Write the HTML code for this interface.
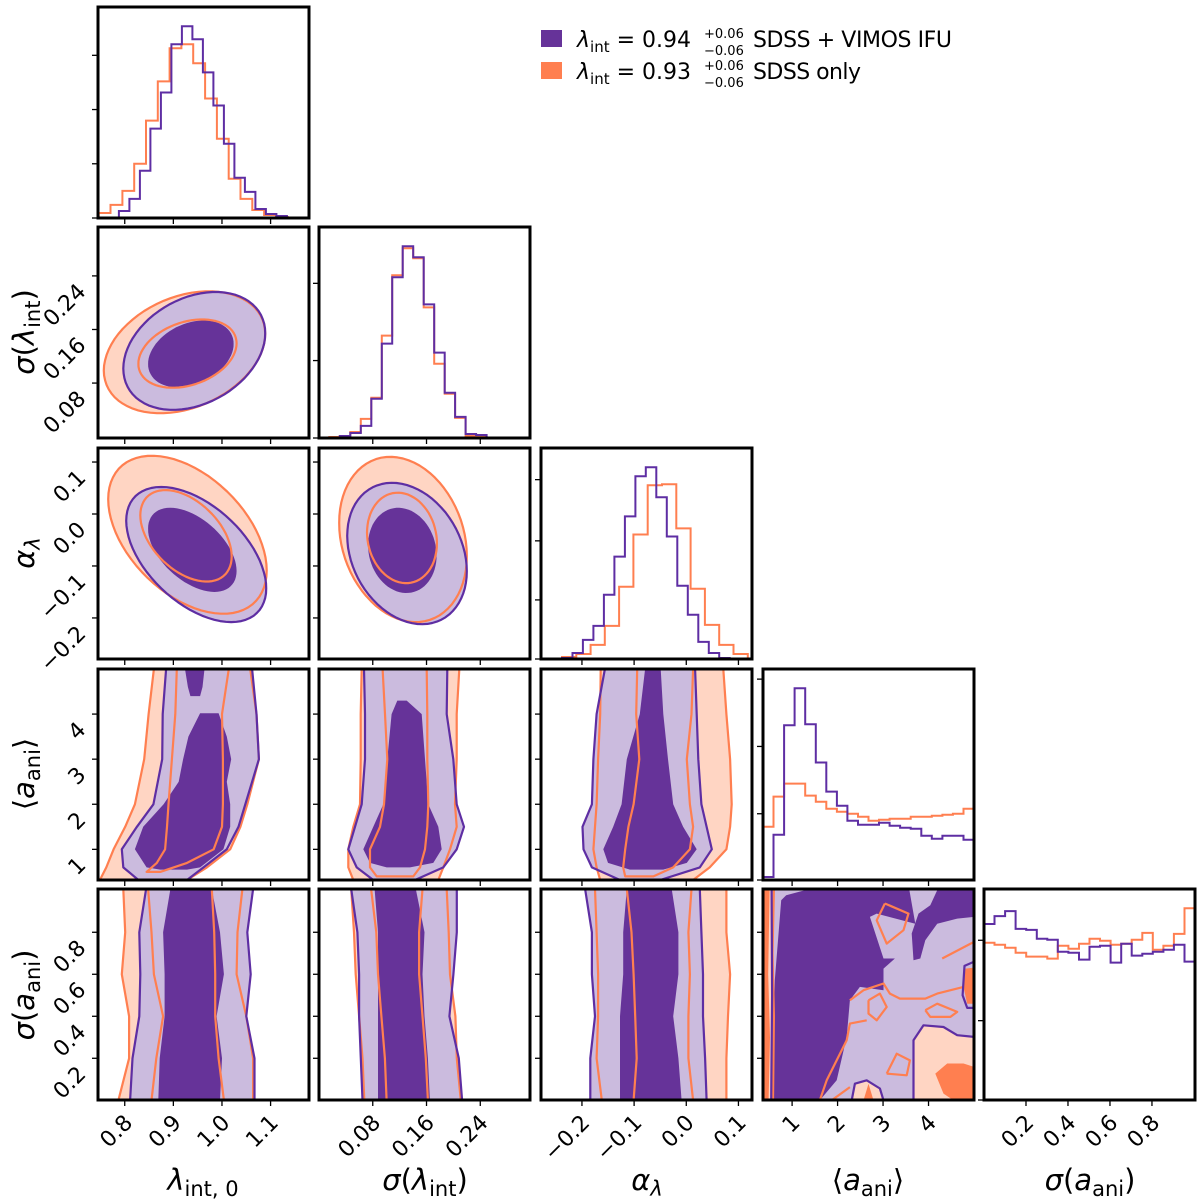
<!DOCTYPE html>
<html><head><meta charset="utf-8">
<style>
html,body{margin:0;padding:0;background:#fff;}
svg{display:block;font-family:"DejaVu Sans","Liberation Sans",sans-serif;}
</style></head>
<body>
<svg id="fig" width="1200" height="1202" viewBox="0 0 1200 1202" xmlns="http://www.w3.org/2000/svg">
<defs id="defs"></defs>
<g id="legend">
  <rect x="541" y="30" width="21" height="17" fill="#663399"/>
  <text x="577" y="47" font-size="22"><tspan font-style="italic">λ</tspan><tspan font-size="15" dy="5">int</tspan><tspan dy="-5"> = 0.94</tspan></text>
  <text x="704" y="38" font-size="13">+0.06</text>
  <text x="704" y="55" font-size="13">−0.06</text>
  <text x="753" y="47" font-size="22" textLength="199">SDSS + VIMOS IFU</text>
  <rect x="541" y="62" width="21" height="17" fill="#ff7f50"/>
  <text x="577" y="79" font-size="22"><tspan font-style="italic">λ</tspan><tspan font-size="15" dy="5">int</tspan><tspan dy="-5"> = 0.93</tspan></text>
  <text x="704" y="70" font-size="13">+0.06</text>
  <text x="704" y="87" font-size="13">−0.06</text>
  <text x="753" y="79" font-size="22" textLength="108">SDSS only</text>
</g>
<g id="labels">
  <text x="203" y="1190" font-size="29" text-anchor="middle"><tspan font-style="italic">λ</tspan><tspan font-size="21" dy="6">int, 0</tspan></text>
  <text x="425" y="1190" font-size="29" text-anchor="middle"><tspan font-style="italic">σ</tspan>(<tspan font-style="italic">λ</tspan><tspan font-size="21" dy="6">int</tspan><tspan dy="-6">)</tspan></text>
  <text x="647" y="1190" font-size="29" text-anchor="middle"><tspan font-style="italic">α</tspan><tspan font-size="21" dy="6" font-style="italic">λ</tspan></text>
  <text x="868" y="1190" font-size="29" text-anchor="middle">⟨<tspan font-style="italic">a</tspan><tspan font-size="21" dy="6">ani</tspan><tspan dy="-6">⟩</tspan></text>
  <text x="1090" y="1190" font-size="29" text-anchor="middle"><tspan font-style="italic">σ</tspan>(<tspan font-style="italic">a</tspan><tspan font-size="21" dy="6">ani</tspan><tspan dy="-6">)</tspan></text>
  <text transform="translate(34,332) rotate(-90)" font-size="29" text-anchor="middle"><tspan font-style="italic">σ</tspan>(<tspan font-style="italic">λ</tspan><tspan font-size="21" dy="6">int</tspan><tspan dy="-6">)</tspan></text>
  <text transform="translate(34,553) rotate(-90)" font-size="29" text-anchor="middle"><tspan font-style="italic">α</tspan><tspan font-size="21" dy="6" font-style="italic">λ</tspan></text>
  <text transform="translate(34,774) rotate(-90)" font-size="29" text-anchor="middle">⟨<tspan font-style="italic">a</tspan><tspan font-size="21" dy="6">ani</tspan><tspan dy="-6">⟩</tspan></text>
  <text transform="translate(34,995) rotate(-90)" font-size="29" text-anchor="middle"><tspan font-style="italic">σ</tspan>(<tspan font-style="italic">a</tspan><tspan font-size="21" dy="6">ani</tspan><tspan dy="-6">)</tspan></text>
</g>
</svg>
<script>
// ---------- axis ranges (data units) ----------
const xRanges = {lam:[0.745,1.179], sig:[0.0,0.314], alp:[-0.2785,0.126], a:[0.36,5.0], sa:[0.0,1.005]};
const yRanges = {sig:[-0.002,0.313], alp:[-0.279,0.127], a:[0.32,5.0], sa:[0.0014,1.006]};
const varOrder = ['lam','sig','alp','a','sa'];
const tickVals = {lam:[0.8,0.9,1.0,1.1], sig:[0.08,0.16,0.24], alp:[-0.2,-0.1,0.0,0.1], a:[1,2,3,4], sa:[0.2,0.4,0.6,0.8]};
const tickLabels = {lam:['0.8','0.9','1.0','1.1'], sig:['0.08','0.16','0.24'], alp:['−0.2','−0.1','0.0','0.1'], a:['1','2','3','4'], sa:['0.2','0.4','0.6','0.8']};
const diagTickFrac = [[0,0.257,0.514,0.771],[0,0.367,0.733],[0,0.28,0.56,0.85],[0,0.314,0.633,0.952],[0,0.376,0.757]];

// ---------- 1D histograms ----------
const histLamPurpleStart = 0.788, histLamPurpleWidth = 0.0216;
const histLamPurple = [7,19,47,89,125,173,191,178,145,112,74,40,26,9,4,2];
const histLamOrangeStart = 0.7465, histLamOrangeWidth = 0.0243;
const histLamOrange = [5,13,27,54,97,136,169,173,154,119,79,39,19,8,3,1];
const histSigPurpleStart = 0.0310, histSigPurpleWidth = 0.0156;
const histSigPurple = [2,5,12,39,94,160,191,180,133,85,45,21,4,3];
const histSigOrangeStart = 0.0154, histSigOrangeWidth = 0.0156;
const histSigOrange = [1,2,6,19,40,102,162,189,179,130,74,44,20,2,1];
const histAlpPurpleStart = -0.2383, histAlpPurpleWidth = 0.0201;
const histAlpPurple = [1,6,19,33,64,102,142,182,191,161,122,73,44,17,6,1];
const histAlpOrangeStart = -0.2383, histAlpOrangeWidth = 0.0274;
const histAlpOrange = [2,5,14,33,72,124,173,174,130,70,34,14,5];
const histAPurpleStart = 0.36, histAPurpleWidth = 0.232;
const histAPurple = [3,45,154,191,155,117,88,74,59,55,55,57,54,52,51,44,41,44,44,40];
const histAOrangeStart = 0.36, histAOrangeWidth = 0.232;
const histAOrange = [53,83,96,96,84,78,71,68,66,63,59,60,61,61,63,63,64,65,66,71];
const histSaPurpleStart = 0.0, histSaPurpleWidth = 0.05025;
const histSaPurple = [178,186,191,173,172,163,162,150,149,142,155,156,139,158,146,148,150,152,157,140];
const histSaOrangeStart = 0.0, histSaOrangeWidth = 0.05025;
const histSaOrange = [159,157,154,149,145,145,143,156,153,158,163,161,157,158,162,169,152,156,168,194];

// ---------- ellipse contours: [centerX, centerY, halfExtentX, halfExtentY, rho] ----------
const ellLamSigOrangeOuter = [0.923,0.126,0.166,0.091,0.3];
const ellLamSigPurpleOuter = [0.943,0.128,0.146,0.088,0.3];
const ellLamSigPurpleInner = [0.936,0.1235,0.088,0.050,0.3];
const ellLamSigOrangeInner = [0.929,0.124,0.101,0.051,0.3];
const ellLamAlpOrangeOuter = [0.929,-0.040,0.163,0.152,-0.45];
const ellLamAlpPurpleOuter = [0.947,-0.078,0.144,0.130,-0.5];
const ellLamAlpPurpleInner = [0.939,-0.069,0.091,0.081,-0.5];
const ellLamAlpOrangeInner = [0.926,-0.042,0.094,0.088,-0.45];
const ellSigAlpOrangeOuter = [0.125,-0.049,0.095,0.159,-0.2];
const ellSigAlpPurpleOuter = [0.131,-0.076,0.089,0.136,-0.25];
const ellSigAlpPurpleInner = [0.124,-0.070,0.051,0.082,-0.12];
const ellSigAlpOrangeInner = [0.1235,-0.046,0.052,0.087,-0.12];

// ---------- band contours vs <a_ani> ----------
const levA = [5.0,4,3,2,1.5,1,0.6,0.32];
const lamAOrangeOuterL = [0.860,0.849,0.840,0.821,0.801,0.777,0.762,0.749];
const lamAOrangeOuterR = [1.058,1.071,1.076,1.052,1.038,1.017,0.969,0.928];
const lamAPurpleOuterL = [0.885,0.878,0.877,0.859,0.825,0.794,0.797,0.828];
const lamAPurpleOuterR = [1.062,1.071,1.076,1.048,1.034,1.010,0.962,0.928];
const levAInner = [4.02,3.5,3,2.5,2,1.5,1,0.6,0.55];
const lamAPurpleInnerL = [0.955,0.931,0.920,0.911,0.880,0.838,0.821,0.845,0.873];
const lamAPurpleInnerR = [0.993,1.010,1.019,1.010,1.017,1.017,1.003,0.955,0.928];
const levATop = [5.0,4.6,4.4];
const lamAPurpleTopL = [0.924,0.930,0.935];
const lamAPurpleTopR = [0.964,0.960,0.955];
const levAOrInner = [5.0,4,3,2,1.5,1,0.7,0.5];
const lamAOrangeInnerL = [0.907,0.904,0.897,0.890,0.887,0.883,0.866,0.845];
const lamAOrangeInnerR = [1.014,1.000,1.002,1.002,1.000,0.983,0.928,0.873];

const sigAOrangeOuterL = [0.0635,0.0620,0.0620,0.0610,0.0510,0.0436,0.0436,0.0510];
const sigAOrangeOuterR = [0.2088,0.2049,0.2049,0.2024,0.2049,0.1949,0.1850,0.1775];
const sigAPurpleOuterL = [0.0670,0.0685,0.0685,0.0635,0.0536,0.0436,0.0561,0.0808];
const sigAPurpleOuterR = [0.1909,0.1900,0.1998,0.2049,0.2158,0.2049,0.1850,0.1429];
const levSigAInner = [4.3,4,3,2,1.5,1,0.7,0.6];
const sigAPurpleInnerL = [0.1165,0.1081,0.1016,0.0957,0.0808,0.0659,0.0759,0.1007];
const sigAPurpleInnerR = [0.1305,0.1528,0.1577,0.1627,0.1775,0.1826,0.1701,0.1354];
const levSigAOrInner = [5,4,3,2,1.5,1,0.6,0.4];
const sigAOrangeInnerL = [0.0947,0.0982,0.1016,0.0967,0.0908,0.0759,0.0759,0.0858];
const sigAOrangeInnerR = [0.1602,0.1612,0.1612,0.1627,0.1612,0.1577,0.1503,0.1403];

const alpAOrangeOuterL = [-0.164,-0.165,-0.169,-0.172,-0.175,-0.178,-0.172,-0.165];
const alpAOrangeOuterR = [0.071,0.077,0.084,0.087,0.084,0.077,0.045,0.013];
const alpAPurpleOuterL = [-0.156,-0.172,-0.178,-0.181,-0.199,-0.197,-0.181,-0.127];
const alpAPurpleOuterR = [0.017,0.020,0.023,0.029,0.039,0.049,0.026,-0.050];
const levAlpAInner = [5,4,3,2,1.5,1,0.7,0.55];
const alpAPurpleInnerL = [-0.079,-0.089,-0.114,-0.124,-0.140,-0.159,-0.150,-0.108];
const alpAPurpleInnerR = [-0.049,-0.044,-0.035,-0.025,-0.006,0.020,0.001,-0.044];
const levAlpAOrInner = [5,4,3,2,1.5,1,0.6,0.4];
const alpAOrangeInnerL = [-0.094,-0.096,-0.090,-0.101,-0.111,-0.117,-0.121,-0.117];
const alpAOrangeInnerR = [0.013,0.010,0.001,0.007,0.013,0.007,-0.025,-0.063];

// ---------- band contours vs sigma(a_ani) ----------
const levS = [1.006,0.8,0.6,0.4,0.2,0.0];
const lamSOrangeOuterL = [0.797,0.801,0.794,0.809,0.809,0.787];
const lamSOrangeOuterR = [1.042,1.032,1.030,1.050,1.064,1.064];
const lamSPurpleOuterL = [0.844,0.830,0.832,0.830,0.816,0.811];
const lamSPurpleOuterR = [1.064,1.052,1.059,1.050,1.067,1.067];
const lamSPurpleInnerL = [0.894,0.879,0.882,0.882,0.872,0.869];
const lamSPurpleInnerR = [0.979,0.996,1.004,0.989,1.000,0.996];
const lamSOrangeInnerL = [0.848,0.855,0.860,0.879,0.865,0.855];
const lamSOrangeInnerR = [0.979,0.984,0.986,0.986,0.993,1.004];
const sigSOrangeOuterL = [0.0479,0.0521,0.0546,0.0597,0.0648,0.0674];
const sigSOrangeOuterR = [0.190,0.193,0.195,0.203,0.205,0.211];
const sigSPurpleOuterL = [0.0479,0.0571,0.0597,0.0597,0.0622,0.0648];
const sigSPurpleOuterR = [0.205,0.205,0.200,0.194,0.208,0.213];
const sigSPurpleInnerL = [0.0827,0.0878,0.0878,0.0878,0.0878,0.0878];
const sigSPurpleInnerR = [0.144,0.157,0.154,0.157,0.162,0.165];
const sigSOrangeInnerL = [0.0776,0.0853,0.0878,0.0929,0.0980,0.1006];
const sigSOrangeInnerR = [0.154,0.149,0.149,0.154,0.159,0.162];
const alpSOrangeOuterL = [-0.175,-0.172,-0.169,-0.169,-0.172,-0.162];
const alpSOrangeOuterR = [0.077,0.077,0.084,0.080,0.077,0.077];
const alpSPurpleOuterL = [-0.194,-0.181,-0.181,-0.175,-0.184,-0.184];
const alpSPurpleOuterR = [0.026,0.029,0.032,0.032,0.036,0.039];
const alpSPurpleInnerL = [-0.114,-0.121,-0.121,-0.127,-0.127,-0.127];
const alpSPurpleInnerR = [-0.028,-0.015,-0.015,-0.025,-0.015,-0.009];
const alpSOrangeInnerL = [-0.114,-0.105,-0.101,-0.098,-0.095,-0.101];
const alpSOrangeInnerR = [0.010,0.004,0.007,0.004,0.004,0.013];

// ---------- <a_ani> vs sigma(a_ani) region polygons [a, s] ----------
const aSPurpleDarkMain = [[1.28,1.0],[3.58,1.0],[3.71,0.841],[2.86,0.889],[2.71,0.873],[3.01,0.675],[3.26,0.675],[3.01,0.627],[3.01,0.524],[2.49,0.540],[2.27,0.476],[2.20,0.302],[1.98,0.095],[1.61,0.0],[0.55,0.0],[0.62,0.571],[0.76,0.952],[0.87,0.976]];
const aSPurpleDarkTR = [[4.19,1.0],[5.0,1.0],[5.0,0.873],[4.63,0.865],[4.19,0.841],[3.93,0.762],[3.82,0.675],[3.67,0.667],[3.63,0.794],[3.78,0.889],[4.04,0.929]];
const aSLightOrangeBR = [[3.67,0],[3.67,0.286],[3.89,0.357],[4.33,0.349],[4.63,0.310],[5.0,0.302],[5.0,0]];
const aSDarkOrangeBR = [[4.15,0.127],[4.41,0.175],[4.77,0.175],[5.0,0.159],[5.0,0],[4.55,0],[4.33,0.032]];
const aSDarkOrangeR = [[4.81,0.627],[5.0,0.632],[5.0,0.46],[4.85,0.46],[4.77,0.54]];
const aSLightOrangeB = [[2.31,0],[2.38,0.079],[2.64,0.095],[2.93,0.056],[3.01,0]];
const aSDarkOrangeB = [[2.57,0],[2.68,0.079],[2.79,0]];
const aSDarkOrangeStrip = [[0.36,0],[0.47,0],[0.47,1.006],[0.36,1.006]];
const aSLightOrangeStrip = [[0.47,0],[0.56,0],[0.56,1.006],[0.47,1.006]];
const aSLightPurple = [[0.56,0],[5.0,0],[5.0,1.006],[0.56,1.006]];
const aSOrangeLines = [
 [[3.04,0.937],[3.56,0.889],[3.45,0.810],[3.08,0.746],[2.86,0.857],[3.04,0.937]],
 [[4.30,0.675],[5.0,0.754]],
 [[2.27,0.476],[2.57,0.524],[3.01,0.556],[3.15,0.508],[3.37,0.484],[3.93,0.484],[4.19,0.508],[4.77,0.540],[5.0,0.556]],
 [[2.68,0.476],[2.93,0.508],[3.08,0.444],[2.86,0.381],[2.68,0.413],[2.68,0.476]],
 [[3.93,0.429],[4.19,0.460],[4.63,0.421],[4.48,0.397],[4.04,0.397],[3.93,0.429]],
 [[3.08,0.127],[3.30,0.222],[3.59,0.190],[3.52,0.119],[3.08,0.127]],
 [[1.61,0],[1.76,0.095],[2.20,0.286],[2.27,0.365],[2.64,0.381]],
 [[1.87,0],[2.27,0.063]],
 [[0.46,0],[0.49,0.3],[0.45,0.6],[0.48,1.006]],
 [[0.58,0],[0.60,0.4],[0.57,0.7],[0.60,1.006]]
];
const aSPurpleLines = [
 [[3.67,0],[3.67,0.286],[3.89,0.357],[4.33,0.349],[4.63,0.310],[5.0,0.302]],
 [[2.31,0],[2.38,0.079],[2.64,0.095],[2.93,0.056],[3.01,0]],
 [[5.0,0.66],[4.79,0.64],[4.75,0.50],[4.85,0.44],[5.0,0.44]],
 [[0.54,0],[0.56,0.5],[0.55,1.006]]
];

// ---------- rendering ----------
const svg = document.getElementById('fig');
const defs = document.getElementById('defs');
const NS = 'http://www.w3.org/2000/svg';
const colX = [98,319,541,763,984];
const rowY = [7,227,448,669,889];
const PS = 211;
const C = {pd:'#663399', pl:'#cbbbde', pline:'#5e2ea3', od:'#ff7f50', ol:'#ffd5c3', oline:'#ff7f50'};

function mk(tag, attrs, parent){
  const e = document.createElementNS(NS, tag);
  for (const k in attrs) e.setAttribute(k, attrs[k]);
  (parent||svg).appendChild(e);
  return e;
}
function sx(col, v){ const r = xRanges[varOrder[col]]; return colX[col] + (v - r[0])/(r[1]-r[0])*PS; }
function sy(row, v){ const r = yRanges[varOrder[row]]; return rowY[row] + PS - (v - r[0])/(r[1]-r[0])*PS; }
function pathFrom(pts, col, row, close){
  return pts.map((p,i)=>(i?'L':'M')+sx(col,p[0]).toFixed(1)+','+sy(row,p[1]).toFixed(1)).join('') + (close?'Z':'');
}
function ellipsePts(e){
  const [mx,my,ax,ay,rho] = e; const phi = Math.acos(rho); const pts=[];
  for (let i=0;i<=72;i++){ const t=i/72*2*Math.PI; pts.push([mx+ax*Math.cos(t), my+ay*Math.cos(t-phi)]); }
  return pts;
}
function bandPtsY(lev, L, R){
  const pts=[]; for(let i=0;i<lev.length;i++) pts.push([L[i],lev[i]]);
  for(let i=lev.length-1;i>=0;i--) pts.push([R[i],lev[i]]);
  return pts;
}
function panelGroup(col,row,name){
  const id='clip'+col+row;
  const cp = mk('clipPath',{id:id},defs);
  mk('rect',{x:colX[col],y:rowY[row],width:PS,height:PS},cp);
  const g = mk('g',{'clip-path':'url(#'+id+')'});
  
  
  return g;
}
function fillPoly(g,pts,col,row,fill,name){
  const p = mk('path',{d:pathFrom(pts,col,row,true),fill:fill,stroke:'none'},g);
  
  
}
function linePoly(g,pts,col,row,color,close,name){
  const p = mk('path',{d:pathFrom(pts,col,row,close),fill:'none',stroke:color,'stroke-width':2.2,'stroke-linejoin':'round'},g);
  
  
}
function frame(col,row){
  const r = mk('rect',{x:colX[col],y:rowY[row],width:PS,height:PS,fill:'none',stroke:'#000','stroke-width':3});
  
  
}
function drawHist(col, series){
  const row=col; const g = panelGroup(col,row,'histogram-'+varOrder[col]);
  let mx=0; series.forEach(s=>s.counts.forEach(c=>{ if(c>mx) mx=c; }));
  const ymax = mx*1.1; const base=rowY[row]+PS;
  series.forEach(s=>{
    let d=''; const n=s.counts.length;
    for(let i=0;i<n;i++){
      const x0=sx(col,s.start+i*s.width), x1=sx(col,s.start+(i+1)*s.width);
      const y=base - s.counts[i]/ymax*PS;
      d += (i===0?'M'+x0.toFixed(1)+','+base+'L':'L')+x0.toFixed(1)+','+y.toFixed(1)+'L'+x1.toFixed(1)+','+y.toFixed(1);
    }
    d+='L'+sx(col,s.start+n*s.width).toFixed(1)+','+base;
    const p = mk('path',{d:d,fill:'none',stroke:s.color,'stroke-width':2},g);
    
    
  });
}

function ticks(){
  for(let row=0;row<5;row++){
    for(let col=0;col<=row;col++){
      const xv=varOrder[col];
      tickVals[xv].forEach((v,i)=>{
        const x=sx(col,v), y=rowY[row]+PS;
        const t = mk('line',{x1:x,x2:x,y1:y,y2:y+6,stroke:'#000','stroke-width':1.3});
        
        
        if(row===4){
          const ax=x+9, ay=y+24;
          const tx = mk('text',{x:ax,y:ay,'font-size':22,'text-anchor':'end',transform:'rotate(-45 '+ax+' '+ay+')'});
          tx.textContent = tickLabels[xv][i];
          
          
        }
      });
      if(col<row){
        const yv=varOrder[row];
        tickVals[yv].forEach((v,i)=>{
          const y=sy(row,v), x=colX[col];
          const t = mk('line',{x1:x-6,x2:x,y1:y,y2:y,stroke:'#000','stroke-width':1.3});
          
          
          if(col===0){
            const ax=x-11, ay=y+17;
            const tx = mk('text',{x:ax,y:ay,'font-size':22,'text-anchor':'end',transform:'rotate(-45 '+ax+' '+ay+')'});
            tx.textContent = tickLabels[yv][i];
            
            
          }
        });
      } else {
        diagTickFrac[row].forEach(f=>{
          const y=rowY[row]+PS-f*PS, x=colX[col];
          const t = mk('line',{x1:x-6,x2:x,y1:y,y2:y,stroke:'#000','stroke-width':1.3});
          
          
        });
      }
    }
  }
}

drawHist(0,[{start:histLamOrangeStart,width:histLamOrangeWidth,counts:histLamOrange,color:C.oline,name:'hist-lambda-sdss-only'},{start:histLamPurpleStart,width:histLamPurpleWidth,counts:histLamPurple,color:C.pline,name:'hist-lambda-sdss-vimos'}]);
drawHist(1,[{start:histSigOrangeStart,width:histSigOrangeWidth,counts:histSigOrange,color:C.oline,name:'hist-sigma-lambda-sdss-only'},{start:histSigPurpleStart,width:histSigPurpleWidth,counts:histSigPurple,color:C.pline,name:'hist-sigma-lambda-sdss-vimos'}]);
drawHist(2,[{start:histAlpOrangeStart,width:histAlpOrangeWidth,counts:histAlpOrange,color:C.oline,name:'hist-alpha-sdss-only'},{start:histAlpPurpleStart,width:histAlpPurpleWidth,counts:histAlpPurple,color:C.pline,name:'hist-alpha-sdss-vimos'}]);
drawHist(3,[{start:histAOrangeStart,width:histAOrangeWidth,counts:histAOrange,color:C.oline,name:'hist-a-ani-sdss-only'},{start:histAPurpleStart,width:histAPurpleWidth,counts:histAPurple,color:C.pline,name:'hist-a-ani-sdss-vimos'}]);
drawHist(4,[{start:histSaOrangeStart,width:histSaOrangeWidth,counts:histSaOrange,color:C.oline,name:'hist-sigma-a-ani-sdss-only'},{start:histSaPurpleStart,width:histSaPurpleWidth,counts:histSaPurple,color:C.pline,name:'hist-sigma-a-ani-sdss-vimos'}]);

function ellPanel(col,row,oo,po,pi,oi){
  const g=panelGroup(col,row,'contour-'+varOrder[col]+'-'+varOrder[row]);
  fillPoly(g,ellipsePts(oo),col,row,C.ol,'contour-fill-orange-outer');
  fillPoly(g,ellipsePts(po),col,row,C.pl,'contour-fill-purple-outer');
  fillPoly(g,ellipsePts(pi),col,row,C.pd,'contour-fill-purple-inner');
  linePoly(g,ellipsePts(oo),col,row,C.oline,true,'contour-line-orange-outer');
  linePoly(g,ellipsePts(oi),col,row,C.oline,true,'contour-line-orange-inner');
  linePoly(g,ellipsePts(po),col,row,C.pline,true,'contour-line-purple-outer');
}
ellPanel(0,1,ellLamSigOrangeOuter,ellLamSigPurpleOuter,ellLamSigPurpleInner,ellLamSigOrangeInner);
ellPanel(0,2,ellLamAlpOrangeOuter,ellLamAlpPurpleOuter,ellLamAlpPurpleInner,ellLamAlpOrangeInner);
ellPanel(1,2,ellSigAlpOrangeOuter,ellSigAlpPurpleOuter,ellSigAlpPurpleInner,ellSigAlpOrangeInner);

function bandPanel(col,row,bands){
  const g=panelGroup(col,row,'contour-'+varOrder[col]+'-'+varOrder[row]);
  bands.forEach(b=>{
    const pts=bandPtsY(b.lev,b.L,b.R);
    if(b.fill) fillPoly(g,pts,col,row,b.fill,b.name+'-fill');
  });
  bands.forEach(b=>{
    const pts=bandPtsY(b.lev,b.L,b.R);
    if(b.line) linePoly(g,pts,col,row,b.line,true,b.name+'-line');
  });
}
bandPanel(0,3,[
 {lev:levA,L:lamAOrangeOuterL,R:lamAOrangeOuterR,fill:C.ol,line:C.oline,name:'orange-outer'},
 {lev:levA,L:lamAPurpleOuterL,R:lamAPurpleOuterR,fill:C.pl,line:null,name:'purple-outer'},
 {lev:levAInner,L:lamAPurpleInnerL,R:lamAPurpleInnerR,fill:C.pd,line:null,name:'purple-inner'},
 {lev:levATop,L:lamAPurpleTopL,R:lamAPurpleTopR,fill:C.pd,line:null,name:'purple-inner-top'},
 {lev:levAOrInner,L:lamAOrangeInnerL,R:lamAOrangeInnerR,fill:null,line:C.oline,name:'orange-inner'},
 {lev:levA,L:lamAPurpleOuterL,R:lamAPurpleOuterR,fill:null,line:C.pline,name:'purple-outer'}
]);
bandPanel(1,3,[
 {lev:levA,L:sigAOrangeOuterL,R:sigAOrangeOuterR,fill:C.ol,line:C.oline,name:'orange-outer'},
 {lev:levA,L:sigAPurpleOuterL,R:sigAPurpleOuterR,fill:C.pl,line:null,name:'purple-outer'},
 {lev:levSigAInner,L:sigAPurpleInnerL,R:sigAPurpleInnerR,fill:C.pd,line:null,name:'purple-inner'},
 {lev:levSigAOrInner,L:sigAOrangeInnerL,R:sigAOrangeInnerR,fill:null,line:C.oline,name:'orange-inner'},
 {lev:levA,L:sigAPurpleOuterL,R:sigAPurpleOuterR,fill:null,line:C.pline,name:'purple-outer'}
]);
bandPanel(2,3,[
 {lev:levA,L:alpAOrangeOuterL,R:alpAOrangeOuterR,fill:C.ol,line:C.oline,name:'orange-outer'},
 {lev:levA,L:alpAPurpleOuterL,R:alpAPurpleOuterR,fill:C.pl,line:null,name:'purple-outer'},
 {lev:levAlpAInner,L:alpAPurpleInnerL,R:alpAPurpleInnerR,fill:C.pd,line:null,name:'purple-inner'},
 {lev:levAlpAOrInner,L:alpAOrangeInnerL,R:alpAOrangeInnerR,fill:null,line:C.oline,name:'orange-inner'},
 {lev:levA,L:alpAPurpleOuterL,R:alpAPurpleOuterR,fill:null,line:C.pline,name:'purple-outer'}
]);
function sBandPanel(col,oOL,oOR,pOL,pOR,pIL,pIR,oIL,oIR){
  bandPanel(col,4,[
   {lev:levS,L:oOL,R:oOR,fill:C.ol,line:C.oline,name:'orange-outer'},
   {lev:levS,L:pOL,R:pOR,fill:C.pl,line:null,name:'purple-outer'},
   {lev:levS,L:pIL,R:pIR,fill:C.pd,line:null,name:'purple-inner'},
   {lev:levS,L:oIL,R:oIR,fill:null,line:C.oline,name:'orange-inner'},
   {lev:levS,L:pOL,R:pOR,fill:null,line:C.pline,name:'purple-outer'}
  ]);
}
sBandPanel(0,lamSOrangeOuterL,lamSOrangeOuterR,lamSPurpleOuterL,lamSPurpleOuterR,lamSPurpleInnerL,lamSPurpleInnerR,lamSOrangeInnerL,lamSOrangeInnerR);
sBandPanel(1,sigSOrangeOuterL,sigSOrangeOuterR,sigSPurpleOuterL,sigSPurpleOuterR,sigSPurpleInnerL,sigSPurpleInnerR,sigSOrangeInnerL,sigSOrangeInnerR);
sBandPanel(2,alpSOrangeOuterL,alpSOrangeOuterR,alpSPurpleOuterL,alpSPurpleOuterR,alpSPurpleInnerL,alpSPurpleInnerR,alpSOrangeInnerL,alpSOrangeInnerR);

(function(){
  const col=3,row=4; const g=panelGroup(col,row,'contour-a-ani-sigma-a-ani');
  fillPoly(g,aSLightPurple,col,row,C.pl,'region-light-purple');
  fillPoly(g,aSDarkOrangeStrip,col,row,C.od,'region-dark-orange-strip');
  fillPoly(g,aSLightOrangeStrip,col,row,C.ol,'region-light-orange-strip');
  fillPoly(g,aSPurpleDarkMain,col,row,C.pd,'region-dark-purple-main');
  fillPoly(g,aSPurpleDarkTR,col,row,C.pd,'region-dark-purple-top-right');
  fillPoly(g,aSLightOrangeBR,col,row,C.ol,'region-light-orange-bottom-right');
  fillPoly(g,aSDarkOrangeBR,col,row,C.od,'region-dark-orange-bottom-right');
  fillPoly(g,aSDarkOrangeR,col,row,C.od,'region-dark-orange-right');
  fillPoly(g,aSLightOrangeB,col,row,C.ol,'region-light-orange-bottom');
  fillPoly(g,aSDarkOrangeB,col,row,C.od,'region-dark-orange-bottom');
  aSOrangeLines.forEach(l=>linePoly(g,l,col,row,C.oline,false,'contour-line-orange'));
  aSPurpleLines.forEach(l=>linePoly(g,l,col,row,C.pline,false,'contour-line-purple'));
})();

ticks();
for(let row=0;row<5;row++) for(let col=0;col<=row;col++) frame(col,row);
</script>
</body></html>
